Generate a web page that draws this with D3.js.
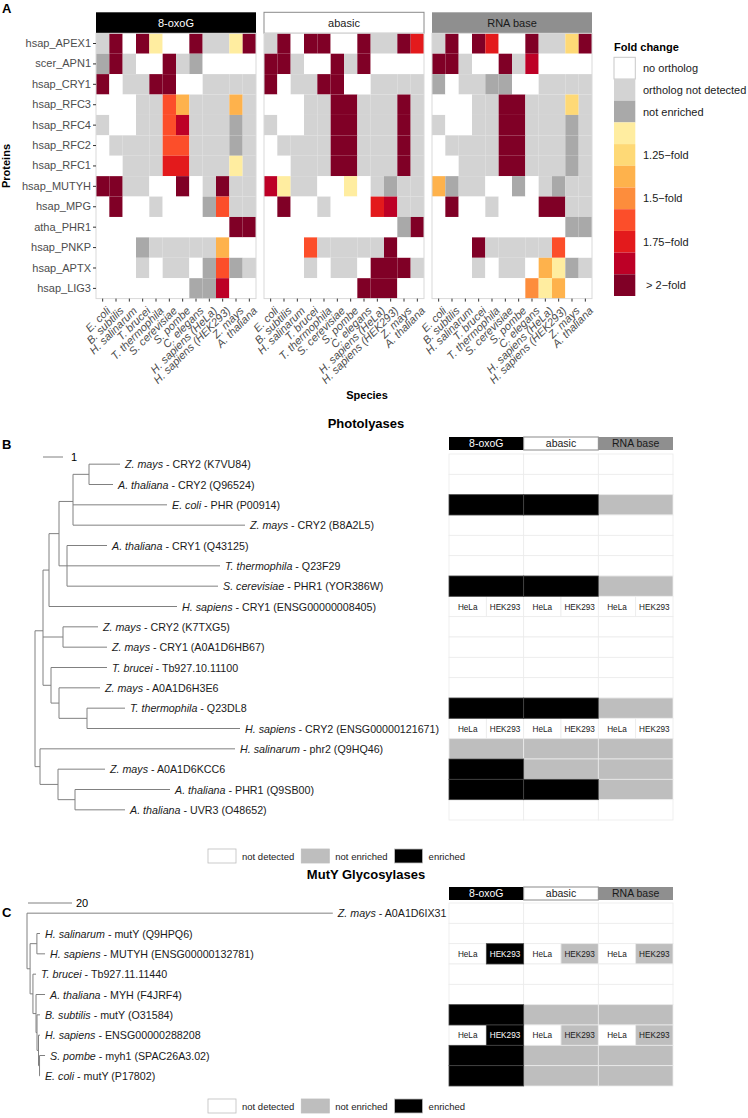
<!DOCTYPE html>
<html>
<head>
<meta charset="utf-8">
<script src="https://cdn.jsdelivr.net/npm/d3@7"></script>
<style>
body { margin: 0; background: #fff; }
text { font-family: "Liberation Sans", Arial, sans-serif; }
</style>
</head>
<body>
<svg id="fig" width="748" height="1118"></svg>
<script>
// ---------- panel A data ----------
const species = ["E. coli", "B. subtilis", "H. salinarum", "T. brucei", "T. thermophila", "S. cerevisiae",
  "S. pombe", "C. elegans", "H. sapiens (HeLa)", "H. sapiens (HEK293)", "Z. mays", "A. thaliana"];
const proteins = ["hsap_APEX1", "scer_APN1", "hsap_CRY1", "hsap_RFC3", "hsap_RFC4", "hsap_RFC2", "hsap_RFC1",
  "hsap_MUTYH", "hsap_MPG", "atha_PHR1", "hsap_PNKP", "hsap_APTX", "hsap_LIG3"];
const baits = ["8-oxoG", "abasic", "RNA base"];
// 0 no ortholog, 1 ortholog not detected, 2 not enriched, 3..10 fold change classes
const oxoG = [
  [1,10,0,10,3,0,0,10,1,1,3,10],
  [2,10,1,0,0,10,1,2,0,0,0,0],
  [10,0,1,1,10,10,0,0,1,1,1,1],
  [0,0,0,1,1,7,5,1,1,1,5,1],
  [1,0,0,1,1,7,9,1,1,1,2,1],
  [0,1,1,1,1,7,7,1,1,1,2,1],
  [0,0,1,1,1,8,8,1,1,1,3,1],
  [10,10,1,1,0,0,10,0,1,10,1,1],
  [0,10,0,0,1,0,0,0,2,7,1,1],
  [0,0,0,0,0,0,0,0,0,0,10,10],
  [0,0,0,2,1,1,1,1,1,5,0,0],
  [0,0,0,1,0,1,1,0,2,7,2,1],
  [0,0,0,0,0,0,0,2,2,9,0,0]
];
const abasic = [
  [1,10,0,10,10,0,0,10,1,1,10,8],
  [10,10,1,0,0,10,1,10,0,0,0,0],
  [10,0,1,1,10,10,0,0,1,1,1,1],
  [0,0,0,1,1,10,10,1,1,1,10,1],
  [1,0,0,1,1,10,10,1,1,1,10,1],
  [0,1,1,1,1,10,10,1,1,1,10,1],
  [0,0,1,1,1,10,10,1,1,1,10,1],
  [9,3,1,1,0,0,3,0,1,2,1,1],
  [0,10,0,0,1,0,0,0,8,9,1,1],
  [0,0,0,0,0,0,0,0,0,0,2,10],
  [0,0,0,7,1,1,1,1,1,10,0,0],
  [0,0,0,1,0,1,1,0,10,10,10,1],
  [0,0,0,0,0,0,0,10,10,10,0,0]
];
const rnaBase = [
  [1,10,0,10,8,0,0,10,1,1,4,10],
  [10,10,1,0,0,10,1,9,0,0,0,0],
  [2,0,1,1,2,2,0,0,1,1,1,1],
  [0,0,0,1,1,10,10,1,1,1,4,1],
  [1,0,0,1,1,10,10,1,1,1,2,1],
  [0,1,1,1,1,10,10,1,1,1,2,1],
  [0,0,1,1,1,10,10,1,1,1,2,1],
  [5,2,1,1,0,0,2,0,1,2,1,1],
  [0,10,0,0,1,0,0,0,10,10,1,1],
  [0,0,0,0,0,0,0,0,0,0,2,2],
  [0,0,0,10,1,1,1,1,1,7,0,0],
  [0,0,0,1,0,1,1,0,5,3,2,1],
  [0,0,0,0,0,0,0,6,3,5,0,0]
];
const foldLabels = ["no ortholog", "ortholog not detected", "not enriched", "", "1.25\u2212fold", "",
  "1.5\u2212fold", "", "1.75\u2212fold", "", " > 2\u2212fold"];

// ---------- panel B data (photolyase tree, edges: child, parent, branch length) ----------
const photoEdges = [
  ["root", null, 0],
  ["n43", "root", 0.4], ["n49", "n43", 0.3], ["n59", "n49", 0.5], ["n73", "n59", 0.7], ["n89", "n73", 0.8],
  ["p1", "n89", 1.55], ["p2", "n89", 1.2], ["p3", "n73", 4.7], ["p4", "n73", 8.6],
  ["n67", "n59", 0.4], ["p5", "n67", 2.0], ["p6", "n67", 7.65], ["p7", "n67", 7.55],
  ["p8", "n49", 6.4],
  ["n63", "n43", 1.0], ["p9", "n63", 1.75], ["p10", "n63", 2.2],
  ["n51", "n43", 0.4], ["p11", "n51", 2.8], ["n59b", "n51", 0.4], ["p12", "n59b", 2.05],
  ["n87", "n59b", 1.4], ["p13", "n87", 1.9], ["p14", "n87", 7.65],
  ["n40", "root", 0.25], ["p15", "n40", 9.75], ["nK", "n40", 0.9], ["p16", "nK", 2.35],
  ["nA", "nK", 0.85], ["p17", "nA", 4.75], ["p18", "nA", 2.5]
];
const photoTips = [
  ["p1", "Z. mays", "CRY2 (K7VU84)"], ["p2", "A. thaliana", "CRY2 (Q96524)"],
  ["p3", "E. coli", "PHR (P00914)"], ["p4", "Z. mays", "CRY2 (B8A2L5)"],
  ["p5", "A. thaliana", "CRY1 (Q43125)"], ["p6", "T. thermophila", "Q23F29"],
  ["p7", "S. cerevisiae", "PHR1 (YOR386W)"], ["p8", "H. sapiens", "CRY1 (ENSG00000008405)"],
  ["p9", "Z. mays", "CRY2 (K7TXG5)"], ["p10", "Z. mays", "CRY1 (A0A1D6HB67)"],
  ["p11", "T. brucei", "Tb927.10.11100"], ["p12", "Z. mays", "A0A1D6H3E6"],
  ["p13", "T. thermophila", "Q23DL8"], ["p14", "H. sapiens", "CRY2 (ENSG00000121671)"],
  ["p15", "H. salinarum", "phr2 (Q9HQ46)"], ["p16", "Z. mays", "A0A1D6KCC6"],
  ["p17", "A. thaliana", "PHR1 (Q9SB00)"], ["p18", "A. thaliana", "UVR3 (O48652)"]
];
// nd = not detected, ne = not enriched, e = enriched; "a|b" = HeLa | HEK293
const photoStatus = [
  ["nd","nd","nd"], ["nd","nd","nd"], ["e","e","ne"], ["nd","nd","nd"], ["nd","nd","nd"], ["nd","nd","nd"],
  ["e","e","ne"], ["nd|nd","nd|nd","nd|nd"], ["nd","nd","nd"], ["nd","nd","nd"], ["nd","nd","nd"],
  ["nd","nd","nd"], ["e","e","ne"], ["nd|nd","nd|nd","nd|nd"], ["ne","ne","ne"], ["e","ne","ne"],
  ["e","e","ne"], ["nd","nd","nd"]
];

// ---------- panel C data (MutY tree) ----------
const mutyEdges = [
  ["root", null, 0],
  ["m1", "root", 139],
  ["c1", "root", 1.4], ["c2", "c1", 3.1], ["m2", "c2", 1.4], ["m3", "c2", 3.7],
  ["c3", "c1", 1.3], ["m4", "c3", 1.4], ["c4", "c3", 1.4], ["m5", "c4", 4.1],
  ["c5", "c4", 0.45], ["m6", "c5", 1.35], ["c6", "c5", 0.68], ["m7", "c6", 0.67],
  ["c7", "c6", 0.47], ["m8", "c7", 2.5], ["m9", "c7", 0.2]
];
const mutyTips = [
  ["m1", "Z. mays", "A0A1D6IX31"], ["m2", "H. salinarum", "mutY (Q9HPQ6)"],
  ["m3", "H. sapiens", "MUTYH (ENSG00000132781)"], ["m4", "T. brucei", "Tb927.11.11440"],
  ["m5", "A. thaliana", "MYH (F4JRF4)"], ["m6", "B. subtilis", "mutY (O31584)"],
  ["m7", "H. sapiens", "ENSG00000288208"], ["m8", "S. pombe", "myh1 (SPAC26A3.02)"],
  ["m9", "E. coli", "mutY (P17802)"]
];
const mutyStatus = [
  ["nd","nd","nd"], ["nd","nd","nd"], ["nd|e","nd|ne","nd|ne"], ["nd","nd","nd"], ["nd","nd","nd"],
  ["e","ne","ne"], ["nd|e","nd|ne","nd|ne"], ["e","ne","ne"], ["e","ne","ne"]
];
const cellLines = ["HeLa", "HEK293"];
const statusKeys = ["nd", "ne", "e"];
const statusLabels = ["not detected", "not enriched", "enriched"];

// ---------- drawing ----------
const svg = d3.select('#fig');
const foldColors = ["#ffffff", "#d3d3d3", "#a9a9a9"].concat(d3.schemeYlOrRd[9].slice(1));
const stripFill = { "8-oxoG": "#000000", "abasic": "#ffffff", "RNA base": "#8f8f8f" };
const stripText = { "8-oxoG": "#ffffff", "abasic": "#1a1a1a", "RNA base": "#1a1a1a" };
const statusColor = { nd: "#ffffff", ne: "#bebebe", e: "#000000" };
const axisGrey = '#4d4d4d';

// panel A -----------------------------------------------------
const gA = svg.append('g');
gA.append('text').attr('x', 2).attr('y', 13).attr('font-size', 13).attr('font-weight', 'bold').text('A');

const panelX = d3.scaleBand().domain(baits).range([96, 592]).paddingInner(0.0476);
const cellX = d3.scaleBand().domain(species).range([0, panelX.bandwidth()]);
const rowY = d3.scaleBand().domain(proteins).range([33.3, 298.6]);
const baitData = { "8-oxoG": oxoG, "abasic": abasic, "RNA base": rnaBase };

baits.forEach(b => {
  const g = gA.append('g').attr('transform', `translate(${panelX(b)},0)`);
  // strip
  g.append('rect').attr('x', 0).attr('y', 12.3).attr('width', panelX.bandwidth()).attr('height', 21)
    .attr('fill', stripFill[b]).attr('stroke', b === 'abasic' ? '#8a8a8a' : 'none').attr('stroke-width', 1);
  g.append('text').attr('x', panelX.bandwidth() / 2).attr('y', 26.5).attr('text-anchor', 'middle')
    .attr('font-size', 11).attr('fill', stripText[b]).text(b);
  // tiles
  baitData[b].forEach((row, i) => {
    g.selectAll(null).data(row).enter().append('rect')
      .attr('x', (d, j) => cellX(species[j]))
      .attr('y', rowY(proteins[i]))
      .attr('width', cellX.bandwidth())
      .attr('height', rowY.bandwidth())
      .attr('fill', d => foldColors[d]);
  });
  g.append('rect').attr('x', 0).attr('y', 33.3).attr('width', panelX.bandwidth()).attr('height', 265.3)
    .attr('fill', 'none').attr('stroke', '#d9d9d9').attr('stroke-width', 1);
  // bottom axis
  const ax = g.append('g').attr('transform', 'translate(0,298.6)')
    .call(d3.axisBottom(cellX).tickSize(3).tickFormat(''));
  ax.select('.domain').remove();
  ax.selectAll('line').attr('stroke', '#333');
  g.selectAll(null).data(species).enter().append('text')
    .attr('transform', d => `translate(${cellX(d) + cellX.bandwidth() / 2 + 3},306) rotate(-45)`)
    .attr('text-anchor', 'end').attr('font-size', 11).attr('font-style', 'italic').attr('fill', axisGrey)
    .attr('dy', '0.7em').text(d => d);
});
const yAx = gA.append('g').attr('transform', 'translate(96,0)').call(d3.axisLeft(rowY).tickSize(3).tickPadding(2));
yAx.select('.domain').remove();
yAx.selectAll('line').attr('stroke', '#333');
yAx.selectAll('text').attr('font-size', 11).attr('fill', axisGrey).style('font-family', '"Liberation Sans", Arial, sans-serif');
gA.append('text').attr('transform', 'translate(10,166) rotate(-90)').attr('text-anchor', 'middle')
  .attr('font-size', 11).attr('font-weight', 'bold').text('Proteins');
gA.append('text').attr('x', 367).attr('y', 399).attr('text-anchor', 'middle')
  .attr('font-size', 11).attr('font-weight', 'bold').text('Species');

// fold change legend
const legY = d3.scaleBand().domain(d3.range(foldLabels.length)).range([57.3, 296]);
gA.append('text').attr('x', 614).attr('y', 50.5).attr('font-size', 11).attr('font-weight', 'bold').text('Fold change');
foldLabels.forEach((lab, i) => {
  gA.append('rect').attr('x', 614).attr('y', legY(i)).attr('width', 21.3).attr('height', legY.bandwidth())
    .attr('fill', foldColors[i]).attr('stroke', i === 0 ? '#c8c8c8' : 'none');
  if (lab) gA.append('text').attr('x', 643).attr('y', legY(i) + legY.bandwidth() / 2 + 4)
    .attr('font-size', 11).attr('fill', '#1a1a1a').attr('xml:space', 'preserve').text(lab);
});

// tree + table helpers ----------------------------------------
function drawTree(g, edges, tips, rootX, unitPx, yBand) {
  const root = d3.stratify().id(d => d[0]).parentId(d => d[1])(edges);
  const x = d3.scaleLinear().domain([0, 1]).range([rootX, rootX + unitPx]);
  root.eachBefore(n => { n.dist = n.parent ? n.parent.dist + n.data[2] : 0; });
  root.eachAfter(n => {
    n.py = n.children ? d3.mean(n.children, c => c.py) : yBand(n.id) + yBand.bandwidth() / 2;
  });
  const lineCol = '#808080';
  root.descendants().forEach(n => {
    if (n.parent) g.append('line').attr('x1', x(n.parent.dist)).attr('x2', x(n.dist))
      .attr('y1', n.py).attr('y2', n.py).attr('stroke', lineCol).attr('stroke-width', 1);
    if (n.children) g.append('line').attr('x1', x(n.dist)).attr('x2', x(n.dist))
      .attr('y1', d3.min(n.children, c => c.py)).attr('y2', d3.max(n.children, c => c.py))
      .attr('stroke', lineCol).attr('stroke-width', 1);
  });
  const tipInfo = new Map(tips.map(t => [t[0], t]));
  root.leaves().forEach(n => {
    const t = tipInfo.get(n.id);
    const tx = g.append('text').attr('x', x(n.dist) + 5).attr('y', n.py + 4).attr('font-size', 10.7).attr('fill', '#1a1a1a');
    tx.append('tspan').attr('font-style', 'italic').text(t[1]);
    tx.append('tspan').text(' - ' + t[2]);
  });
  return x;
}

const tableX = d3.scaleBand().domain(baits).range([449, 673]);
function drawTable(g, tips, status, yBand, stripY) {
  baits.forEach(b => {
    g.append('rect').attr('x', tableX(b)).attr('y', stripY).attr('width', tableX.bandwidth()).attr('height', 13)
      .attr('fill', stripFill[b]).attr('stroke', b === 'abasic' ? '#8a8a8a' : 'none');
    g.append('text').attr('x', tableX(b) + tableX.bandwidth() / 2).attr('y', stripY + 10).attr('text-anchor', 'middle')
      .attr('font-size', 10.5).attr('fill', stripText[b]).text(b);
  });
  const cells = [];
  tips.forEach((t, i) => {
    status[i].forEach((s, j) => {
      const parts = s.split('|');
      const sub = d3.scaleBand().domain(d3.range(parts.length))
        .range([tableX(baits[j]), tableX(baits[j]) + tableX.bandwidth()]);
      parts.forEach((p, k) => cells.push({ x: sub(k), w: sub.bandwidth(), y: yBand(t[0]), p, split: parts.length > 1, k }));
    });
  });
  cells.sort((a, b) => (a.p === 'e') - (b.p === 'e'));
  cells.forEach(c => {
    g.append('rect').attr('x', c.x).attr('y', c.y).attr('width', c.w).attr('height', yBand.bandwidth())
      .attr('fill', statusColor[c.p]).attr('stroke', c.p === 'e' ? '#444' : '#ebebeb').attr('stroke-width', 0.8);
    if (c.split) g.append('text').attr('x', c.x + c.w / 2).attr('y', c.y + yBand.bandwidth() / 2 + 3)
      .attr('text-anchor', 'middle').attr('font-size', 8.2).attr('fill', c.p === 'e' ? '#fff' : '#1a1a1a')
      .text(cellLines[c.k]);
  });
}

function drawStatusLegend(g, cy) {
  let lx = 208;
  statusKeys.forEach((k, i) => {
    g.append('rect').attr('x', lx).attr('y', cy - 7).attr('width', 28).attr('height', 14)
      .attr('fill', statusColor[k]).attr('stroke', '#bdbdbd').attr('stroke-width', 0.8);
    const t = g.append('text').attr('x', lx + 34).attr('y', cy + 3.5).attr('font-size', 9.5).attr('fill', '#1a1a1a')
      .text(statusLabels[i]);
    lx += 34 + t.node().getComputedTextLength() + 7;
  });
}

// panel B -----------------------------------------------------
const gB = svg.append('g');
gB.append('text').attr('x', 366).attr('y', 428).attr('text-anchor', 'middle').attr('font-size', 13)
  .attr('font-weight', 'bold').text('Photolyases');
gB.append('text').attr('x', 2).attr('y', 449).attr('font-size', 13).attr('font-weight', 'bold').text('B');
const yB = d3.scaleBand().domain(photoTips.map(t => t[0])).range([454, 820]);
const xB = drawTree(gB, photoEdges, photoTips, 35, 20, yB);
gB.append('line').attr('x1', 43).attr('x2', 43 + (xB(1) - xB(0))).attr('y1', 457).attr('y2', 457)
  .attr('stroke', '#808080');
gB.append('text').attr('x', 71).attr('y', 461).attr('font-size', 11).text('1');
drawTable(gB, photoTips, photoStatus, yB, 437);
drawStatusLegend(gB, 856);

// panel C -----------------------------------------------------
const gC = svg.append('g');
gC.append('text').attr('x', 366).attr('y', 879).attr('text-anchor', 'middle').attr('font-size', 13)
  .attr('font-weight', 'bold').text('MutY Glycosylases');
gC.append('text').attr('x', 2).attr('y', 917).attr('font-size', 13).attr('font-weight', 'bold').text('C');
const yC = d3.scaleBand().domain(mutyTips.map(t => t[0])).range([903, 1086]);
const xC = drawTree(gC, mutyEdges, mutyTips, 27, 2.2, yC);
gC.append('line').attr('x1', 28).attr('x2', 28 + 20 * (xC(1) - xC(0))).attr('y1', 903).attr('y2', 903)
  .attr('stroke', '#808080');
gC.append('text').attr('x', 76).attr('y', 907).attr('font-size', 11).text('20');
drawTable(gC, mutyTips, mutyStatus, yC, 887);
drawStatusLegend(gC, 1106);
</script>
</body>
</html>
